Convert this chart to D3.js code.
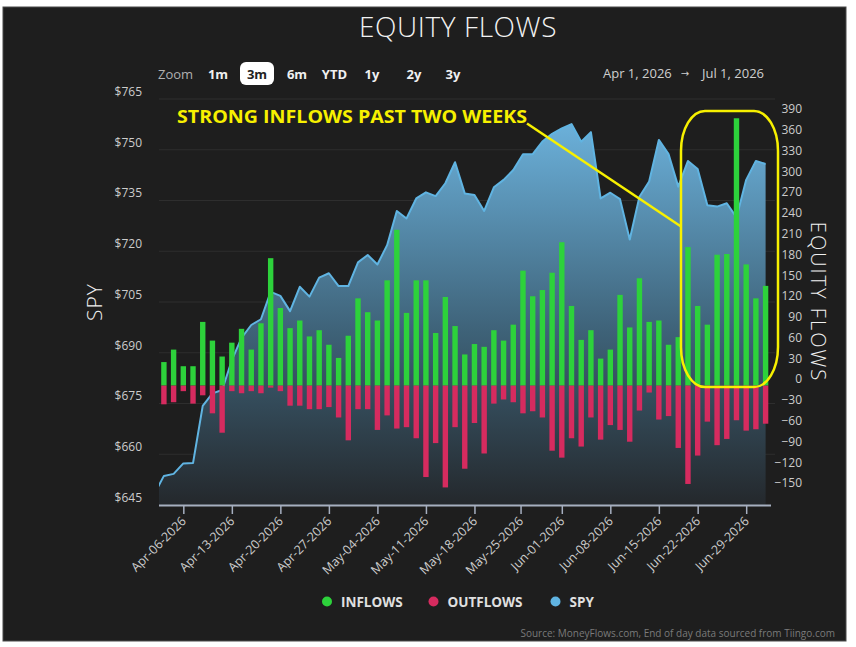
<!DOCTYPE html>
<html>
<head>
<meta charset="utf-8">
<script src="https://cdn.jsdelivr.net/npm/d3@7"></script>
<style>
  body { margin: 0; background: #ffffff; }
  svg { display: block; }
  text { font-family: "Open Sans", "DejaVu Sans", sans-serif; }
</style>
</head>
<body>
<svg id="chart" width="856" height="647"></svg>
<script>
// ---------------- DATA ----------------
const dates = [
  "2026-03-31","2026-04-01","2026-04-02","2026-04-06","2026-04-07","2026-04-08","2026-04-09","2026-04-10",
  "2026-04-13","2026-04-14","2026-04-15","2026-04-16","2026-04-17","2026-04-20","2026-04-21","2026-04-22",
  "2026-04-23","2026-04-24","2026-04-27","2026-04-28","2026-04-29","2026-04-30","2026-05-01","2026-05-04",
  "2026-05-05","2026-05-06","2026-05-07","2026-05-08","2026-05-11","2026-05-12","2026-05-13","2026-05-14",
  "2026-05-15","2026-05-18","2026-05-19","2026-05-20","2026-05-21","2026-05-22","2026-05-26","2026-05-27",
  "2026-05-28","2026-05-29","2026-06-01","2026-06-02","2026-06-03","2026-06-04","2026-06-05","2026-06-08",
  "2026-06-09","2026-06-10","2026-06-11","2026-06-12","2026-06-15","2026-06-16","2026-06-17","2026-06-18",
  "2026-06-22","2026-06-23","2026-06-24","2026-06-25","2026-06-26","2026-06-29","2026-06-30","2026-07-01"
];
const spy = [
  648.2, 653.6, 654.2, 657.3, 657.4, 674.3, 678.0, 679.0, 687.8, 694.4, 698.2, 699.9, 708.0, 706.8, 702.3, 709.5,
  706.6, 712.2, 713.5, 709.7, 709.7, 716.7, 718.9, 716.1, 721.8, 731.9, 729.7, 735.6, 737.4, 736.3, 740.1, 746.3,
  737.1, 736.6, 731.9, 738.9, 741.1, 744.0, 748.7, 748.7, 752.4, 754.7, 756.3, 757.6, 752.4, 755.2, 735.6, 737.3,
  735.4, 723.5, 736.1, 740.6, 752.9, 748.7, 739.1, 746.7, 744.3, 733.6, 733.2, 734.2, 730.0, 741.1, 746.7, 745.8
];
const inflows = [
  null,
  34, 52, 28, 28, 92, 65, 42, 62, 82, 52, 90, 184, 112, 83, 94, 71, 80, 59, 40, 72,
  126, 106, 94, 152, 225, 105, 152, 152, 76, 128, 86, 45, 60, 56, 80, 65, 88, 166, 129, 138,
  163, 207, 115, 66, 80, 39, 52, 131, 84, 155, 92, 94, 59, 70, 200, 115, 88, 189, 190, 386,
  175, 126, 144
];
const outflows = [
  null,
  -27, -24, -8, -26, -14, -40, -68, -8, -11, -8, -11, -3, -8, -29, -29, -34, -34, -31, -46, -79,
  -34, -34, -64, -43, -62, -60, -76, -132, -83, -147, -60, -120, -54, -98, -26, -20, -24, -40, -37, -46,
  -94, -104, -76, -88, -46, -78, -57, -64, -81, -36, -10, -49, -44, -90, -142, -101, -52, -86, -77, -50,
  -65, -63, -55
];
const xTickDates = ["2026-04-06","2026-04-13","2026-04-20","2026-04-27","2026-05-04","2026-05-11","2026-05-18",
                    "2026-05-25","2026-06-01","2026-06-08","2026-06-15","2026-06-22","2026-06-29"];
const xTickLabels = ["Apr-06-2026","Apr-13-2026","Apr-20-2026","Apr-27-2026","May-04-2026","May-11-2026","May-18-2026",
                     "May-25-2026","Jun-01-2026","Jun-08-2026","Jun-15-2026","Jun-22-2026","Jun-29-2026"];
const spyTicks = [645, 660, 675, 690, 705, 720, 735, 750, 765];
const flowTicks = [-150, -120, -90, -60, -30, 0, 30, 60, 90, 120, 150, 180, 210, 240, 270, 300, 330, 360, 390];
const zoomButtons = ["1m", "3m", "6m", "YTD", "1y", "2y", "3y"];
const zoomButtonX = [218, 257, 297, 334.5, 372, 414, 453];
const legendItems = ["INFLOWS", "OUTFLOWS", "SPY"];
const colors = { inflow: "#2dd23b", outflow: "#d62b5f", spy: "#60b4e2" };

// ---------------- SETUP ----------------
const svg = d3.select("#chart");
const parse = d3.timeParse("%Y-%m-%d");
const dt = dates.map(parse);

// ordinal (trading-day) position; non-trading dates interpolated in time
function ordinalIndex(d) {
  const t = parse(d);
  for (let i = 0; i < dt.length - 1; i++) {
    if (t >= dt[i] && t < dt[i + 1]) return i + (t - dt[i]) / (dt[i + 1] - dt[i]);
  }
  return dt.length - 1;
}

const plotL = 159, plotR = 775, plotT = 99, plotB = 505;
const x = d3.scaleLinear().domain([0, dates.length - 1]).range([154.2, 765.6]);
const yL = d3.scaleLinear().domain([645, 765]).range([plotB, plotT]);
const yR = d3.scaleLinear().domain([-150, 390]).range([489.5, 115.5]);

// panel background
svg.append("rect").attr("x", 3).attr("y", 7).attr("width", 843).attr("height", 634)
  .attr("fill", "#1e1e1e").attr("stroke", "#4a4a4a").attr("stroke-width", 1);

// title
svg.append("text").attr("x", 458).attr("y", 37).attr("text-anchor", "middle")
  .attr("font-size", 28).attr("font-weight", 300).attr("fill", "#f2f2f2").attr("letter-spacing", 0.6)
  .text("EQUITY FLOWS");

// zoom controls
svg.append("text").attr("x", 158).attr("y", 79).attr("font-size", 13).attr("fill", "#b0b0b0").text("Zoom");
svg.append("rect").attr("x", 240).attr("y", 62).attr("width", 34).attr("height", 23).attr("rx", 6)
  .attr("fill", "#ffffff");
zoomButtons.forEach((b, i) => {
  svg.append("text").attr("x", zoomButtonX[i]).attr("y", 79).attr("text-anchor", "middle")
    .attr("font-size", 13).attr("font-weight", 700)
    .attr("fill", b === "3m" ? "#222" : "#f0f0f0").text(b);
});
svg.append("text").attr("x", 603).attr("y", 78).attr("font-size", 13).attr("fill", "#cfcfcf").text("Apr 1, 2026");
svg.append("text").attr("x", 685).attr("y", 77).attr("text-anchor", "middle").attr("font-size", 10).attr("fill", "#cfcfcf").text("→");
svg.append("text").attr("x", 702).attr("y", 78).attr("font-size", 13).attr("fill", "#cfcfcf").text("Jul 1, 2026");

// gridlines (left axis)
const grid = svg.append("g");
spyTicks.filter(t => t !== 645).forEach(t => {
  grid.append("line").attr("x1", plotL).attr("x2", plotR).attr("y1", yL(t)).attr("y2", yL(t))
    .attr("stroke", "#2e2e2e").attr("stroke-width", 1);
});

// clip
svg.append("defs").append("clipPath").attr("id", "clip")
  .append("rect").attr("x", plotL).attr("y", 60).attr("width", plotR - plotL).attr("height", plotB - 60);

const grad = svg.select("defs").append("linearGradient").attr("id", "areaGrad")
  .attr("gradientUnits", "userSpaceOnUse").attr("x1", 0).attr("x2", 0).attr("y1", 120).attr("y2", plotB);
grad.append("stop").attr("offset", 0).attr("stop-color", "rgb(108,178,220)");
grad.append("stop").attr("offset", 0.55).attr("stop-color", "rgb(62,98,120)");
grad.append("stop").attr("offset", 1).attr("stop-color", "rgb(36,40,44)");

const plot = svg.append("g").attr("clip-path", "url(#clip)");

const idx = d3.range(dates.length);
plot.append("path").datum(idx)
  .attr("d", d3.area().x(i => x(i)).y0(plotB).y1(i => yL(spy[i])))
  .attr("fill", "url(#areaGrad)");
plot.append("path").datum(idx)
  .attr("d", d3.line().x(i => x(i)).y(i => yL(spy[i])))
  .attr("fill", "none").attr("stroke", colors.spy).attr("stroke-width", 2).attr("stroke-linejoin", "round");

// bars
const bw = 5.4;
const barIdx = idx.filter(i => inflows[i] !== null);
plot.selectAll("rect.in").data(barIdx).enter().append("rect")
  .attr("x", i => x(i) - bw / 2).attr("width", bw)
  .attr("y", i => yR(inflows[i])).attr("height", i => yR(0) - yR(inflows[i]))
  .attr("fill", colors.inflow);
plot.selectAll("rect.out").data(barIdx).enter().append("rect")
  .attr("x", i => x(i) - bw / 2).attr("width", bw)
  .attr("y", yR(0)).attr("height", i => yR(outflows[i]) - yR(0))
  .attr("fill", colors.outflow);

// x axis
const xAxis = d3.axisBottom(x).tickValues(xTickDates.map(ordinalIndex))
  .tickFormat((d, i) => xTickLabels[i]).tickSize(9).tickSizeOuter(0);
const gx = svg.append("g").attr("transform", `translate(0,${plotB})`).call(xAxis);
gx.select(".domain").attr("d", `M${plotL},0.5H${plotR - 4}`).attr("stroke", "#a6afc0").attr("stroke-width", 2);
gx.selectAll(".tick line").attr("stroke", "#a6afc0").attr("stroke-width", 1.5);
gx.selectAll(".tick text")
  .attr("font-size", 12.5).attr("fill", "#cccccc")
  .attr("text-anchor", "end").attr("dy", null).attr("y", 0)
  .attr("transform", "translate(3,17) rotate(-45)");

// left axis
const gl = svg.append("g").attr("transform", `translate(${plotL},0)`)
  .call(d3.axisLeft(yL).tickValues(spyTicks).tickFormat(d => "$" + d).tickSize(0));
gl.select(".domain").remove();
gl.selectAll(".tick text").attr("x", -17).attr("dy", "-0.3em").attr("font-size", 12).attr("fill", "#cccccc");

// right axis
const gr = svg.append("g").attr("transform", `translate(802,0)`)
  .call(d3.axisLeft(yR).tickValues(flowTicks).tickSize(0));
gr.select(".domain").remove();
gr.selectAll(".tick text").attr("x", 0).attr("dy", "-0.22em").attr("font-size", 12).attr("fill", "#cccccc");

// axis titles
svg.append("text").attr("transform", "translate(102,302) rotate(-90)").attr("text-anchor", "middle")
  .attr("font-size", 21).attr("font-weight", 300).attr("fill", "#f0f0f0").attr("letter-spacing", 1).text("SPY");
svg.append("text").attr("transform", "translate(811,302) rotate(90)").attr("text-anchor", "middle")
  .attr("font-size", 20).attr("font-weight", 300).attr("fill", "#f0f0f0").attr("letter-spacing", 2)
  .text("EQUITY FLOWS");

// annotation
const yellow = "#f7f000";
svg.append("text").attr("x", 177).attr("y", 123)
  .attr("font-family", "'Liberation Sans Narrow', 'Arial Narrow', 'Liberation Sans', sans-serif")
  .attr("font-size", 18).attr("font-weight", 700).attr("fill", yellow)
  .attr("textLength", 350).attr("lengthAdjust", "spacingAndGlyphs")
  .text("STRONG INFLOWS PAST TWO WEEKS");
svg.append("line").attr("x1", 527).attr("y1", 123.5).attr("x2", 681).attr("y2", 226.5)
  .attr("stroke", yellow).attr("stroke-width", 2.5);
svg.append("rect").attr("x", 681).attr("y", 111).attr("width", 97).attr("height", 276)
  .attr("rx", 24).attr("ry", 40).attr("fill", "none").attr("stroke", yellow).attr("stroke-width", 2.5);

// legend
const legendX = [327, 433.5, 555.5];
const legendColors = [colors.inflow, colors.outflow, colors.spy];
legendItems.forEach((l, i) => {
  svg.append("circle").attr("cx", legendX[i]).attr("cy", 601.5).attr("r", 5).attr("fill", legendColors[i]);
  svg.append("text").attr("x", legendX[i] + 14).attr("y", 606.5).attr("font-size", 13.5)
    .attr("font-weight", 700).attr("fill", "#e0e0e0").text(l);
});

// source
svg.append("text").attr("x", 835).attr("y", 637).attr("text-anchor", "end")
  .attr("font-size", 10).attr("fill", "#7a7a7a")
  .text("Source: MoneyFlows.com, End of day data sourced from Tiingo.com");
</script>
</body>
</html>
